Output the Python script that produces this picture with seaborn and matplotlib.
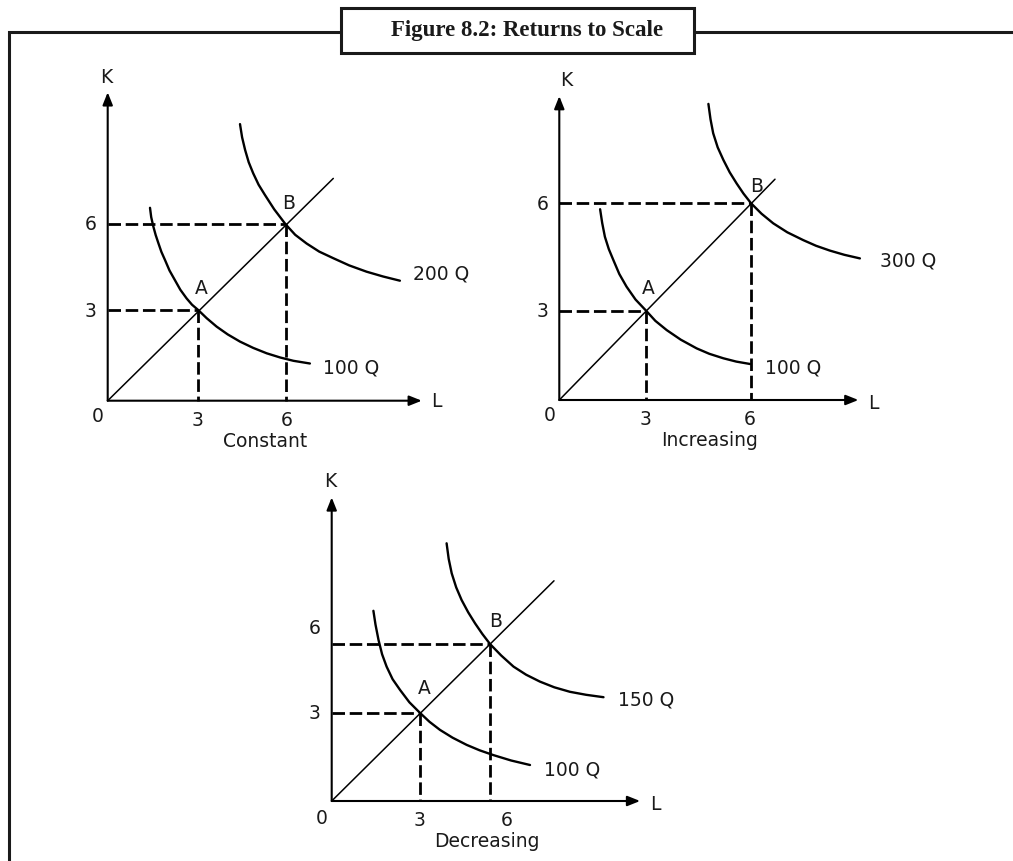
import matplotlib
matplotlib.use('Agg')
import matplotlib.pyplot as plt
import seaborn as sns
from matplotlib.lines import Line2D
from matplotlib.patches import Rectangle

# ---- data (grid units, 1 unit = 30 px) ----
subtitles = ['Constant', 'Increasing', 'Decreasing']
upper_labels = ['200 Q', '300 Q', '150 Q']
lower_label = '100 Q'
tick_text = ['3', '6']

# Constant returns
const_low_L = [1.41, 1.45, 1.52, 1.60, 1.69, 1.79, 1.91, 2.06, 2.24, 2.42, 2.63, 2.81, 3.02,
               3.30, 3.63, 4.00, 4.41, 4.85, 5.30, 5.75, 6.19, 6.74]
const_low_K = [6.43, 6.12, 5.81, 5.52, 5.25, 4.96, 4.69, 4.34, 4.02, 3.70, 3.41, 3.20, 3.02,
               2.75, 2.47, 2.21, 1.97, 1.76, 1.58, 1.44, 1.33, 1.24]
const_high_L = [4.41, 4.48, 4.58, 4.70, 4.85, 5.03, 5.24, 5.55, 5.93, 6.25, 6.63, 7.05, 7.52,
                8.05, 8.63, 9.18, 9.74]
const_high_K = [9.22, 8.78, 8.36, 7.95, 7.58, 7.20, 6.86, 6.38, 5.88, 5.53, 5.24, 4.97, 4.75,
                4.51, 4.30, 4.14, 4.00]
const_A = [3.02, 3.02]
const_B = [5.95, 5.88]
const_ray = [7.52, 7.41]
const_xticks = [3.0, 5.97]
const_yticks = [2.97, 5.88]

# Increasing returns
inc_low_L = [1.36, 1.43, 1.52, 1.65, 1.80, 2.00, 2.24, 2.54, 2.89, 3.20, 3.58, 4.05, 4.58,
             5.00, 5.47, 5.90, 6.36]
inc_low_K = [6.36, 5.90, 5.44, 5.03, 4.67, 4.20, 3.78, 3.35, 2.98, 2.64, 2.33, 2.01, 1.72,
             1.54, 1.39, 1.28, 1.20]
inc_high_L = [4.97, 5.04, 5.13, 5.28, 5.47, 5.68, 5.91, 6.14, 6.39, 6.74, 7.13, 7.60, 8.13,
              8.56, 9.02, 9.50, 10.02]
inc_high_K = [9.87, 9.36, 8.89, 8.42, 8.00, 7.59, 7.22, 6.88, 6.56, 6.21, 5.89, 5.59, 5.33,
              5.14, 4.98, 4.84, 4.72]
inc_A = [2.89, 2.98]
inc_B = [6.39, 6.56]
inc_ray = [7.19, 7.36]
inc_xticks = [2.86, 6.36]
inc_yticks = [2.94, 6.53]

# Decreasing returns
dec_low_L = [1.39, 1.46, 1.56, 1.68, 1.83, 2.03, 2.28, 2.59, 2.94, 3.26, 3.61, 4.03, 4.50,
             4.93, 5.39, 5.98, 6.61]
dec_low_K = [6.34, 5.88, 5.37, 4.89, 4.48, 4.06, 3.70, 3.29, 2.94, 2.64, 2.37, 2.11, 1.87,
             1.69, 1.53, 1.35, 1.20]
dec_high_L = [3.83, 3.90, 4.00, 4.15, 4.33, 4.55, 4.78, 5.02, 5.28, 5.65, 6.06, 6.48, 6.94,
              7.42, 7.94, 8.48, 9.06]
dec_high_K = [8.59, 8.07, 7.59, 7.12, 6.70, 6.29, 5.92, 5.57, 5.23, 4.85, 4.48, 4.21, 3.98,
              3.79, 3.64, 3.54, 3.46]
dec_A = [2.94, 2.94]
dec_B = [5.28, 5.23]
dec_ray = [7.41, 7.34]
dec_xticks = [2.94, 5.83]
dec_yticks = [2.92, 5.76]

# ---- layout (pixels / grid units) ----
W, H = 1013, 861
U = 30
panels = [
    dict(origin=(107.7, 400.7), low=(const_low_L, const_low_K), high=(const_high_L, const_high_K),
         A=const_A, B=const_B, ray=const_ray, xt=const_xticks, yt=const_yticks,
         xtip=10.47, ytip=10.28, Kpos=(-0.06, 10.78), Lpos=(10.97, -0.03), zero=(-0.33, -0.51),
         Apos=(3.13, 3.74), Bpos=(6.03, 6.58), upos=(11.13, 4.24), lpos=(8.13, 1.08), spos=(5.24, -1.35)),
    dict(origin=(559.3, 400.0), low=(inc_low_L, inc_low_K), high=(inc_high_L, inc_high_K),
         A=inc_A, B=inc_B, ray=inc_ray, xt=inc_xticks, yt=inc_yticks,
         xtip=9.97, ytip=10.13, Kpos=(0.24, 10.64), Lpos=(10.47, -0.11), zero=(-0.31, -0.53),
         Apos=(2.97, 3.72), Bpos=(6.58, 7.13), upos=(11.63, 4.63), lpos=(7.78, 1.06), spos=(5.02, -1.35)),
    dict(origin=(331.7, 801.0), low=(dec_low_L, dec_low_K), high=(dec_high_L, dec_high_K),
         A=dec_A, B=dec_B, ray=dec_ray, xt=dec_xticks, yt=dec_yticks,
         xtip=10.28, ytip=10.12, Kpos=(-0.06, 10.64), Lpos=(10.78, -0.11), zero=(-0.33, -0.58),
         Apos=(3.08, 3.76), Bpos=(5.48, 5.98), upos=(10.47, 3.37), lpos=(8.0, 1.03), spos=(5.17, -1.36)),
]

sns.set_style('white')
plt.rcParams['font.family'] = ['DejaVu Sans']
plt.rcParams['text.color'] = '#1a1a1a'

fig = plt.figure(figsize=(W / 100, H / 100), dpi=100)

# outer frame and title box
frame_lw = 2.2
fig.add_artist(Line2D([9 / W, 9 / W, 341 / W], [0, 1 - 32 / H, 1 - 32 / H],
                      transform=fig.transFigure, color='#1a1a1a', lw=frame_lw, solid_joinstyle='miter'))
fig.add_artist(Line2D([694 / W, 1], [1 - 32 / H, 1 - 32 / H],
                      transform=fig.transFigure, color='#1a1a1a', lw=frame_lw))
fig.add_artist(Rectangle((341 / W, 1 - 53 / H), 353 / W, 45 / H, transform=fig.transFigure,
                         fill=False, edgecolor='#1a1a1a', lw=frame_lw))
fig.text(527 / W, 1 - 30.5 / H, 'Figure 8.2: Returns to Scale', ha='center', va='center',
         family='Liberation Serif', fontweight='bold', fontsize=16.5)

fs = 13.5
dash = (0, (4.5, 1.7))

for i, p in enumerate(panels):
    ox, oy = p['origin']
    ax = fig.add_axes([(ox - U) / W, (H - oy - 1.8 * U) / H, 13.5 * U / W, 13 * U / H])
    ax.set_xlim(-1, 12.5)
    ax.set_ylim(-1.8, 11.2)
    ax.set_facecolor('none')
    ax.axis('off')

    # axes with arrow heads
    arrow = dict(arrowstyle='-|>,head_length=0.75,head_width=0.3', color='black', lw=1.5,
                 shrinkA=0, shrinkB=0)
    ax.annotate('', xy=(p['xtip'], 0), xytext=(0, 0), arrowprops=arrow)
    ax.annotate('', xy=(0, p['ytip']), xytext=(0, 0), arrowprops=arrow)

    # ray from origin
    sns.lineplot(x=[0, p['ray'][0]], y=[0, p['ray'][1]], ax=ax, color='black', linewidth=1.1,
                 sort=False, estimator=None)

    # isoquants
    for L, K in (p['low'], p['high']):
        sns.lineplot(x=L, y=K, ax=ax, color='black', linewidth=1.7, sort=False, estimator=None,
                     solid_joinstyle='round')

    # dashed guides
    for pt in (p['A'], p['B']):
        ax.plot([0, pt[0]], [pt[1], pt[1]], color='black', lw=2.0, linestyle=dash)
        ax.plot([pt[0], pt[0]], [pt[1], 0], color='black', lw=2.0, linestyle=dash)

    # labels
    ax.text(*p['Kpos'], 'K', ha='center', va='center', fontsize=fs)
    ax.text(*p['Lpos'], 'L', ha='center', va='center', fontsize=fs)
    ax.text(*p['zero'], '0', ha='center', va='center', fontsize=fs)
    for xv, t in zip(p['xt'], tick_text):
        ax.text(xv, -0.65, t, ha='center', va='center', fontsize=fs)
    for yv, t in zip(p['yt'], tick_text):
        ax.text(-0.57, yv, t, ha='center', va='center', fontsize=fs)
    ax.text(*p['Apos'], 'A', ha='center', va='center', fontsize=fs)
    ax.text(*p['Bpos'], 'B', ha='center', va='center', fontsize=fs)
    ax.text(*p['upos'], upper_labels[i], ha='center', va='center', fontsize=fs)
    ax.text(*p['lpos'], lower_label, ha='center', va='center', fontsize=fs)
    ax.text(*p['spos'], subtitles[i], ha='center', va='center', fontsize=fs)

fig.savefig('out.png', dpi=100)
